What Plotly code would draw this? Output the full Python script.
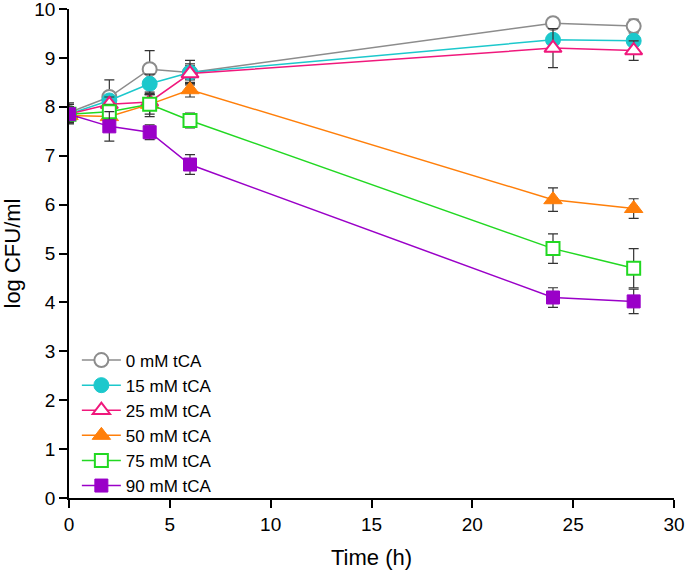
import plotly.graph_objects as go

time_h = [0, 2, 4, 6, 24, 28]
series_names = ["0 mM tCA", "15 mM tCA", "25 mM tCA", "50 mM tCA", "75 mM tCA", "90 mM tCA"]

cfu_0 = [7.88, 8.20, 8.77, 8.70, 9.71, 9.65]
err_0 = [0.20, 0.35, 0.38, 0.25, 0.10, 0.14]
cfu_15 = [7.85, 8.13, 8.47, 8.70, 9.37, 9.35]
err_15 = [0.15, 0.10, 0.20, 0.15, 0.10, 0.10]
cfu_25 = [7.85, 8.05, 8.10, 8.68, 9.20, 9.15]
err_25 = [0.15, 0.15, 0.15, 0.20, 0.40, 0.20]
cfu_50 = [7.82, 7.80, 8.05, 8.35, 6.10, 5.92]
err_50 = [0.15, 0.10, 0.20, 0.15, 0.24, 0.20]
cfu_75 = [7.85, 7.90, 8.05, 7.72, 5.10, 4.70]
err_75 = [0.15, 0.15, 0.25, 0.15, 0.30, 0.40]
cfu_90 = [7.85, 7.60, 7.48, 6.82, 4.10, 4.02]
err_90 = [0.20, 0.30, 0.15, 0.20, 0.20, 0.25]

values = [cfu_0, cfu_15, cfu_25, cfu_50, cfu_75, cfu_90]
errors = [err_0, err_15, err_25, err_50, err_75, err_90]
colors = ["#8c8c8c", "#1cc8cc", "#f0187c", "#ff7f0a", "#22d822", "#9a00c8"]
symbols = ["circle-open", "circle", "triangle-up-open", "triangle-up", "square-open", "square"]
sizes = [14, 15, 15, 16, 13, 13]

fig = go.Figure()
for name, y, e, c, s, sz in zip(series_names, values, errors, colors, symbols, sizes):
    is_open = s.endswith("open")
    if is_open:
        mk = dict(symbol=s.replace("-open", ""), size=sz, color="white",
                  line=dict(color=c, width=2))
    else:
        mk = dict(symbol=s, size=sz, color=c, line=dict(color=c, width=1))
    fig.add_trace(go.Scatter(
        x=time_h, y=y, name=name, mode="lines+markers",
        line=dict(color=c, width=1.5),
        marker=mk,
        error_y=dict(type="data", array=e, visible=True, color="#333333",
                     thickness=1.2, width=5),
    ))

axis_common = dict(showgrid=False, zeroline=False, showline=True,
                   linecolor="black", linewidth=1.5, ticks="outside",
                   ticklen=8, tickwidth=1.5, tickcolor="black",
                   automargin=False, ticklabeloverflow="allow",
                   tickfont=dict(size=19))

fig.update_layout(
    width=685, height=574,
    margin=dict(l=69, r=11, t=9, b=76),
    paper_bgcolor="white", plot_bgcolor="white",
    font=dict(family="Liberation Sans, Arial, sans-serif", size=18, color="black"),
    showlegend=True,
    legend=dict(x=0.013, y=0.318, xanchor="left", yanchor="top",
                bgcolor="rgba(0,0,0,0)", font=dict(size=17),
                tracegroupgap=0, itemsizing="trace", itemwidth=39),
    xaxis=dict(range=[0, 30], tickvals=[0, 5, 10, 15, 20, 25, 30],
               title=dict(text="Time (h)", font=dict(size=22), standoff=16),
               **axis_common),
    yaxis=dict(range=[0, 10], tickvals=list(range(0, 11)),
               title=dict(text="log CFU/ml", font=dict(size=22), standoff=8),
               **axis_common),
)

fig.write_html("out.html", config={"displayModeBar": False},
               post_script="document.body.style.margin='0';")
